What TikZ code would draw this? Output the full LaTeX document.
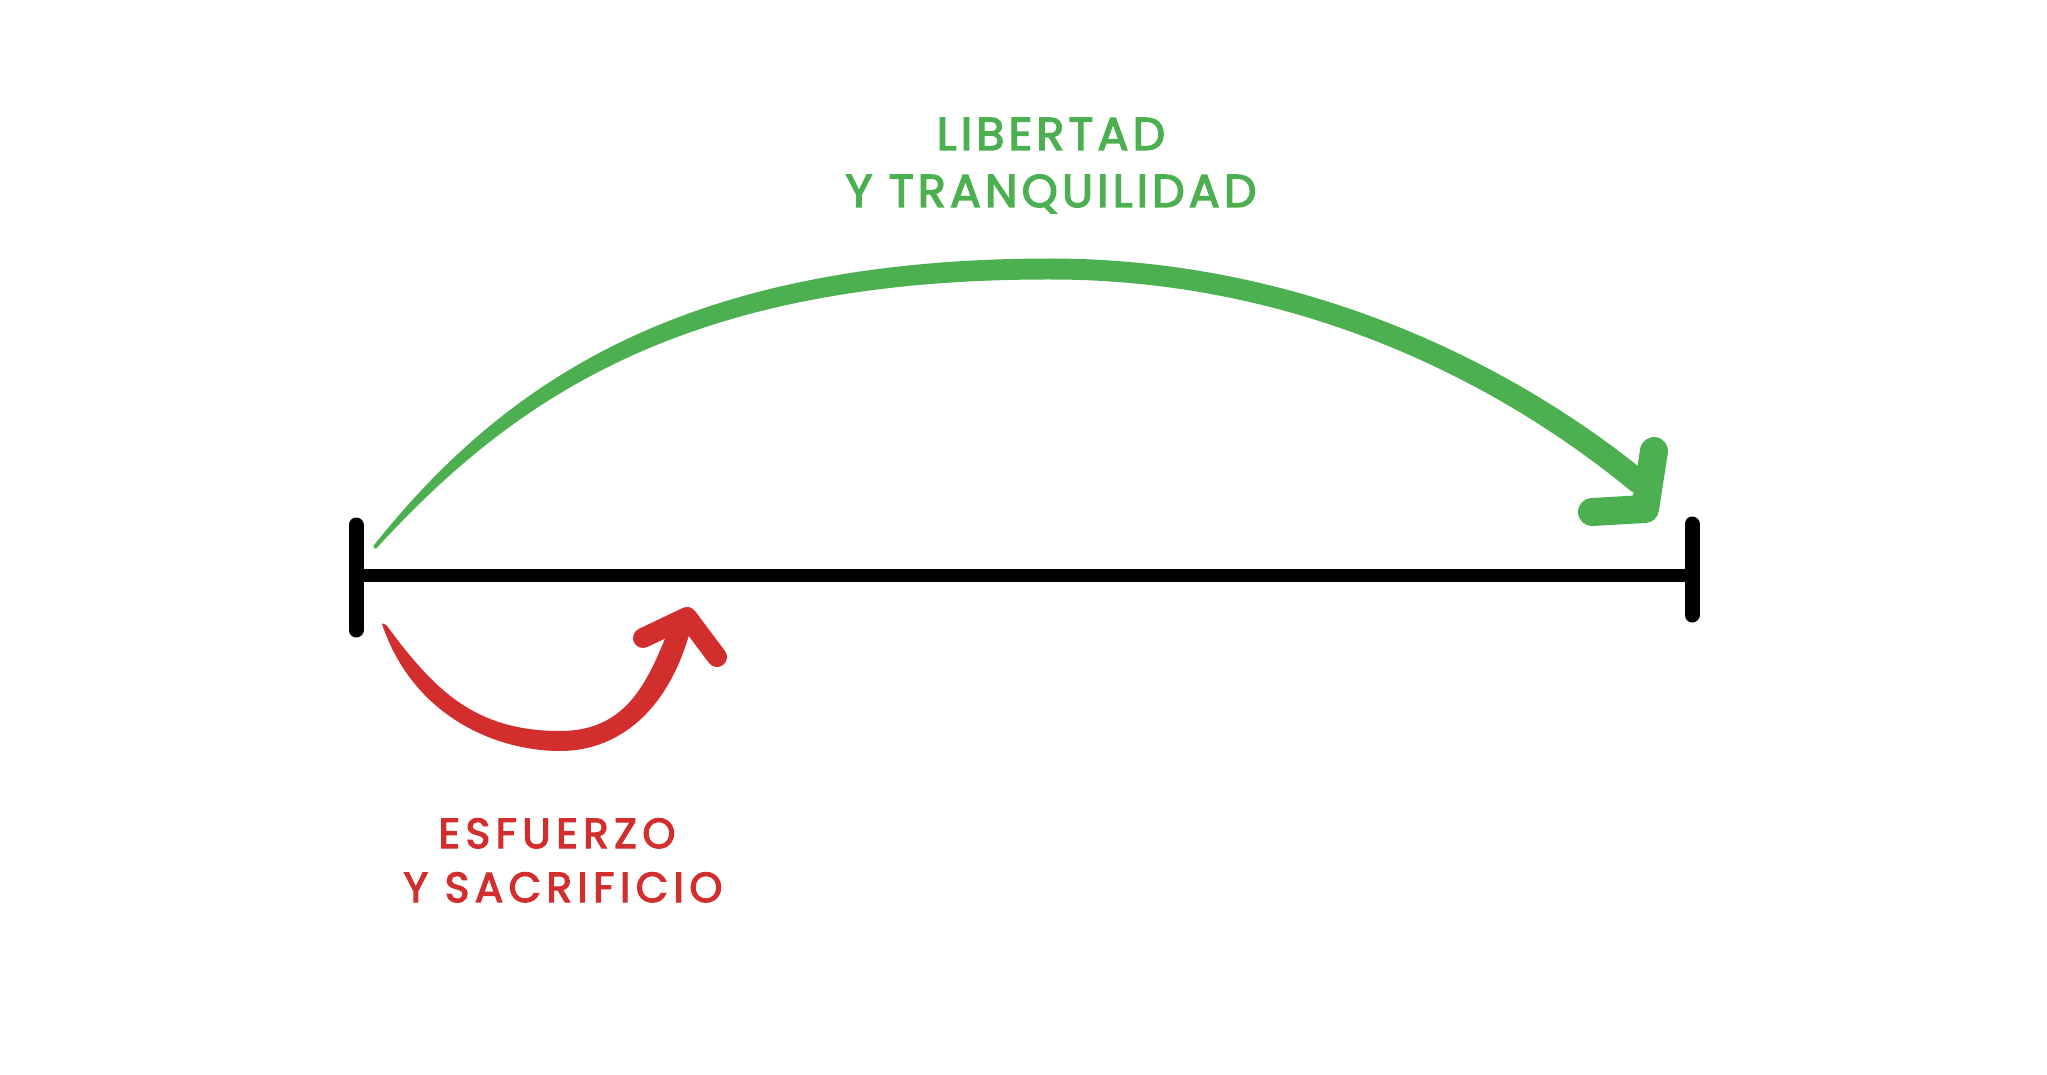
\documentclass[tikz,border=0pt]{standalone}
\usepackage{fontspec}
\setmainfont{Poppins}
\newfontfamily\greenfont{Poppins}[LetterSpace=9,FakeBold=3]
\newfontfamily\redfont{Poppins}[LetterSpace=13,FakeBold=3]
\definecolor{arcgreen}{RGB}{76,175,80}
\definecolor{arcred}{RGB}{210,46,46}
\begin{document}
\begin{tikzpicture}[x=0.5pt,y=-0.5pt,
  axisline/.style={line width=6.5pt,line cap=round},
  tickline/.style={line width=7.5pt,line cap=round},
  greenhead/.style={draw=arcgreen,line width=14pt,line cap=round,line join=round},
  redhead/.style={draw=arcred,line width=10pt,line cap=round,line join=round},
  greenlbl/.style={text=arcgreen,font=\greenfont\fontsize{23}{27}\selectfont,inner sep=0pt,anchor=base},
  redlbl/.style={text=arcred,font=\redfont\fontsize{21}{25}\selectfont,inner sep=0pt,anchor=base}]
\useasboundingbox[fill=white] (0,0) rectangle (2047,1075);
% axis
\coordinate (L) at (356,575);
\coordinate (R) at (1692,575);
\coordinate (Ltop) at (356,525);
\coordinate (Lbot) at (356,630);
\coordinate (Rtop) at (1692,524);
\coordinate (Rbot) at (1692,615);
\draw[axisline] (L) -- (R);
\draw[tickline] (Ltop) -- (Lbot);
\draw[tickline] (Rtop) -- (Rbot);
% green arc (tapered brush stroke)
\coordinate (gS) at (373.5,545.7);
\coordinate (gP) at (1050,258.5);
\coordinate (gE) at (1647.4,473.6);
\fill[arcgreen] (gS) .. controls (504.7,381.6) and (683.2,259) .. (gP)
  .. controls (1302.4,258.8) and (1511.3,362.4) .. (gE)
  -- (1632.6,492.4) .. controls (1498.7,381.6) and (1297.6,279.2) .. (1050,279.5)
  .. controls (689.4,279) and (516.7,395) .. (376.5,548.3)
  .. controls (375,550) and (372.5,548) .. (gS) -- cycle;
\coordinate (gA) at (1654,451);
\coordinate (gC) at (1645,509);
\coordinate (gB) at (1592,512);
\draw[greenhead] (gA) -- (gC) -- (gB);
% red arc (tapered brush stroke)
\coordinate (rS) at (382,624);
\coordinate (rE) at (694,615);
\fill[arcred] (rS) .. controls (413.9,718.6) and (498.8,751) .. (560,751)
  .. controls (622.1,751) and (674.6,705.7) .. (rE)
  -- (676,612) .. controls (651.7,669.3) and (635,731) .. (560,731)
  .. controls (475.1,731) and (434.9,689.9) .. (390,630)
  .. controls (388,626) and (383,622) .. (rS) -- cycle;
\coordinate (rA) at (643,638);
\coordinate (rC) at (687,617);
\coordinate (rB) at (717,657);
\draw[redhead] (rA) -- (rC) -- (rB);
% labels
\node[greenlbl] (g1) at (1051,150) {LIBERTAD};
\node[greenlbl] (g2) at (1051,207) {Y TRANQUILIDAD};
\node[redlbl] (r1) at (557,848) {ESFUERZO};
\node[redlbl] (r2) at (563,902) {Y SACRIFICIO};
\end{tikzpicture}
\end{document}
